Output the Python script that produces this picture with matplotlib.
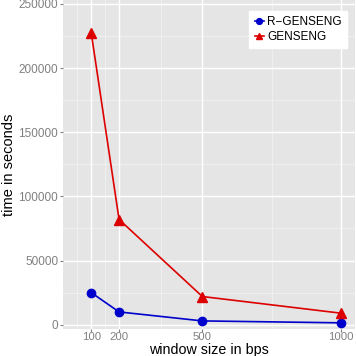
import matplotlib
matplotlib.use("Agg")
import matplotlib.pyplot as plt

plt.rcParams['font.family'] = ['Liberation Sans', 'DejaVu Sans']

window = [100, 200, 500, 1000]
r_genseng = [25000, 10000, 3000, 1500]
genseng = [227000, 82000, 22000, 9000]
xticks = [100, 200, 500, 1000]
yticks = [0, 50000, 100000, 150000, 200000, 250000]

fig = plt.figure(figsize=(3.56, 3.56), dpi=100)
ax = fig.add_axes([63/356, 27/356, 292/356, 329/356])
ax.set_facecolor('#E5E5E5')
for s in ax.spines.values():
    s.set_visible(False)

ax.set_xlim(-2, 1050)
ax.set_ylim(-3300, 253000)

for xm in [50, 150, 350, 750]:
    ax.axvline(xm, color='#F2F2F2', lw=0.6, zorder=0)
for ym in [25000, 75000, 125000, 175000, 225000]:
    ax.axhline(ym, color='#F2F2F2', lw=0.6, zorder=0)
for xm in xticks:
    ax.axvline(xm, color='white', lw=1.0, zorder=0.5)
for ym in yticks:
    ax.axhline(ym, color='white', lw=1.0, zorder=0.5)

ax.plot(window, r_genseng, color='#0000CC', marker='o', ms=6, lw=1.2, label='R\u2212GENSENG', zorder=3)
ax.plot(window, genseng, color='#DD0000', marker='^', ms=6.5, lw=1.2, label='GENSENG', zorder=3)

ax.set_xticks(xticks)
ax.set_xticklabels([str(v) for v in xticks])
ax.set_yticks(yticks)
ax.set_yticklabels([str(v) for v in yticks])
ax.tick_params(axis='both', colors='#7F7F7F', labelcolor='#808080', labelsize=8.5, length=2, width=0.8, pad=1.5)
ax.tick_params(axis='x', labelsize=8.2, pad=0)

ax.set_xlabel('window size in bps', fontsize=10.3)
ax.xaxis.set_label_coords(0.5, -25/329)
ax.xaxis.label.set_va('baseline')
ax.set_ylabel('time in seconds', fontsize=10.5, labelpad=2)

leg = ax.legend(loc='upper right', fontsize=8.5, frameon=True, fancybox=False,
                edgecolor='white', facecolor='white', framealpha=1, handlelength=0.8, handletextpad=0.25,
                borderpad=0.45, labelspacing=0.2, borderaxespad=0.0, markerscale=0.7)
leg.set_bbox_to_anchor((347/356, 1 - 11/356), transform=fig.transFigure)

fig.savefig('out.png', dpi=100)
